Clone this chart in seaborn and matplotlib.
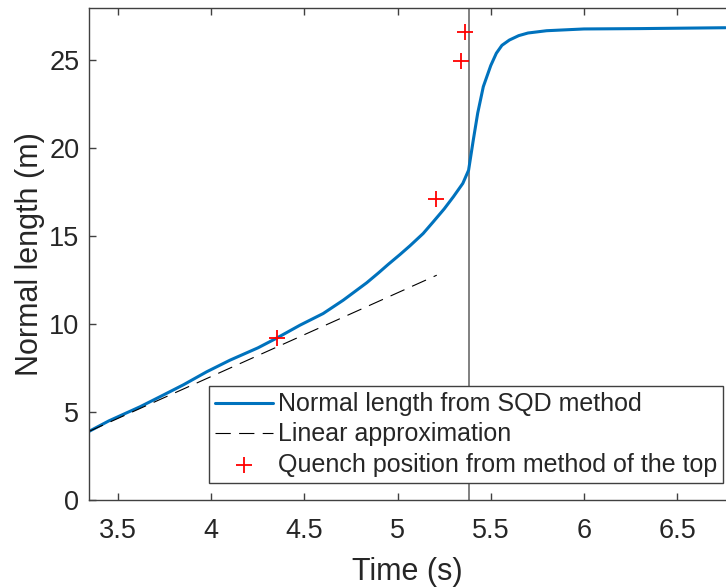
import matplotlib
matplotlib.use("Agg")
import matplotlib.pyplot as plt
import seaborn as sns
import pandas as pd

# normal length from SQD method
sqd_time = [3.343, 3.45, 3.617, 3.724, 3.85, 3.975, 4.1, 4.25, 4.35, 4.476,
            4.6, 4.708, 4.834, 4.896, 4.95, 5.012, 5.066, 5.137, 5.19, 5.25,
            5.3, 5.35, 5.381, 5.406, 5.43, 5.46, 5.5, 5.53, 5.56, 5.6,
            5.65, 5.7, 5.8, 5.9, 6.0, 6.3, 6.76]
sqd_length = [3.9, 4.5, 5.3, 5.87, 6.55, 7.29, 7.95, 8.65, 9.2, 9.94,
              10.6, 11.36, 12.35, 12.9, 13.4, 13.95, 14.45, 15.15, 15.8, 16.55,
              17.25, 18.0, 18.75, 20.45, 22.0, 23.5, 24.7, 25.4, 25.85, 26.15,
              26.4, 26.55, 26.68, 26.73, 26.78, 26.8, 26.85]

# linear approximation
lin_time = [3.343, 5.21]
lin_length = [3.9, 12.78]

# quench position from method of the top
top_time = [4.35, 5.205, 5.341, 5.361]
top_length = [9.22, 17.1, 24.98, 26.6]

quench_time = 5.381

x_ticks = [3.5, 4, 4.5, 5, 5.5, 6, 6.5]
x_tick_labels = ["3.5", "4", "4.5", "5", "5.5", "6", "6.5"]
y_ticks = [0, 5, 10, 15, 20, 25]

sns.set_theme(style="ticks")
plt.rcParams["font.family"] = ["Liberation Sans", "DejaVu Sans"]
plt.rcParams["lines.scale_dashes"] = False

sqd = pd.DataFrame({"time": sqd_time, "length": sqd_length})
lin = pd.DataFrame({"time": lin_time, "length": lin_length})
top = pd.DataFrame({"time": top_time, "length": top_length})

fig = plt.figure(figsize=(7.26, 5.88), dpi=100)
ax = fig.add_axes([89 / 726, 1 - 500 / 588, 1 - 89 / 726, (500 - 7.5) / 588])

ax.axvline(quench_time, color="#5e5e5e", lw=1.1, zorder=1)
sns.lineplot(data=sqd, x="time", y="length", ax=ax, color="#0072BD", lw=2.2,
             sort=False, estimator=None, label="Normal length from SQD method")
sns.lineplot(data=lin, x="time", y="length", ax=ax, color="black", lw=0.8,
             dashes=False, linestyle=(0, (11, 6)), sort=False, estimator=None,
             label="Linear approximation")
sns.scatterplot(data=top, x="time", y="length", ax=ax, marker="+", color="red",
                s=130, linewidth=1.3, label="Quench position from method of the top",
                zorder=5)

ax.set_xlim(3.343, 6.763)
ax.set_ylim(0, 28)
ax.set_xticks(x_ticks)
ax.set_xticklabels(x_tick_labels)
ax.set_yticks(y_ticks)
ax.set_xlabel("Time (s)", fontsize=22, color="#262626", labelpad=9)
ax.set_ylabel("Normal length (m)", fontsize=22, color="#262626", labelpad=3)

ax.spines["right"].set_visible(False)
for side in ["left", "top", "bottom"]:
    ax.spines[side].set_color("#404040")
    ax.spines[side].set_linewidth(1.0)
ax.tick_params(axis="both", direction="in", length=5, width=1.0, color="#404040",
               labelsize=19.5, labelcolor="#262626", top=True, right=False)
ax.tick_params(axis="x", pad=13)
ax.tick_params(axis="y", pad=7)

leg = ax.legend(loc="lower right", bbox_to_anchor=(723 / 726, 1 - 483 / 588),
                bbox_transform=fig.transFigure, borderaxespad=0, fontsize=18,
                frameon=True, fancybox=False, framealpha=1, edgecolor="#404040",
                handlelength=2.3, handletextpad=0.2, labelspacing=0.25,
                borderpad=0.25)
leg.get_frame().set_linewidth(1.0)
leg.set_zorder(10)

fig.savefig("out.png", dpi=100)
